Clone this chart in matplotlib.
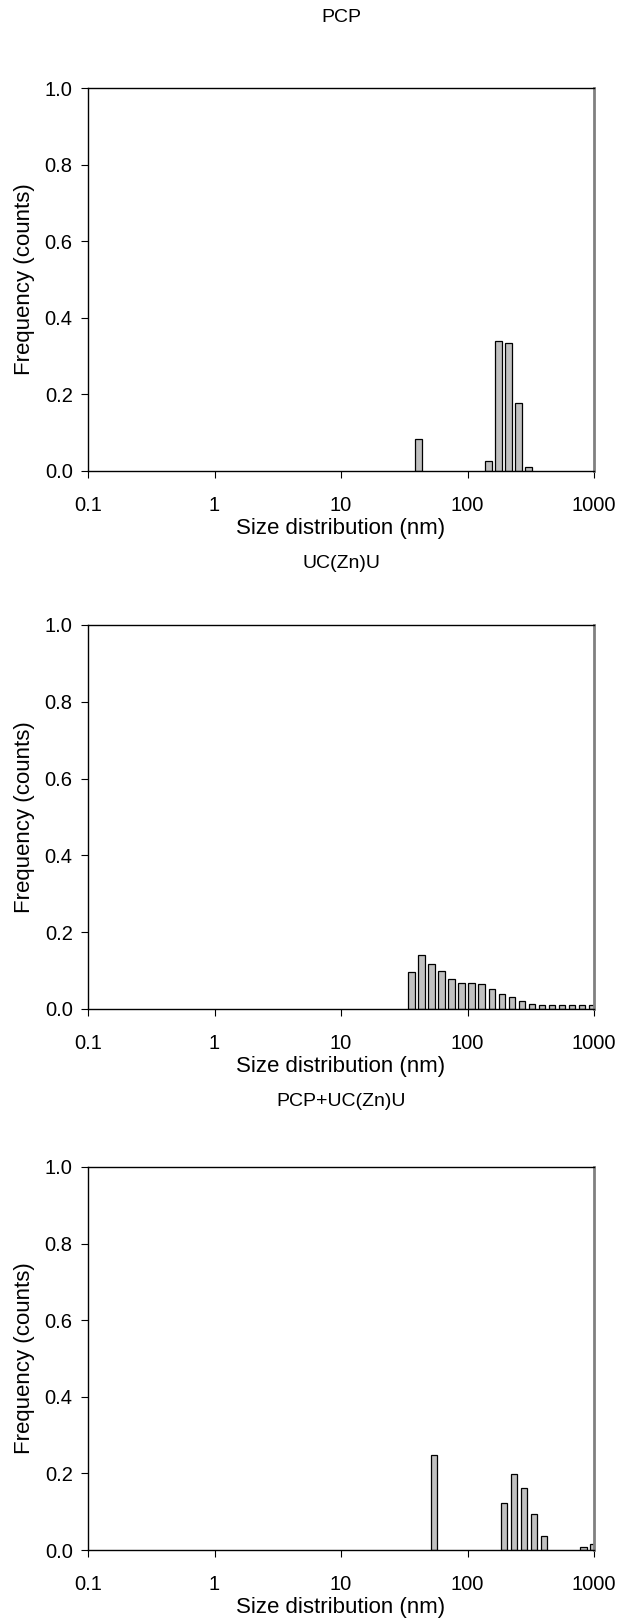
import matplotlib
matplotlib.use('Agg')
import matplotlib.pyplot as plt
import numpy as np

plt.rcParams['font.family'] = ['Liberation Sans', 'DejaVu Sans']

# size bins (nm) and frequencies
pcp_size = [40.8, 146, 175, 210, 252, 302]
pcp_freq = [0.083, 0.025, 0.339, 0.333, 0.178, 0.011]

ucznu_size = [36.1, 43.3, 52.0, 62.4, 74.9, 89.8, 107.8, 129.4, 155.3, 186.3,
              223.6, 268.3, 322, 386.4, 463.7, 556.4, 667.7, 801.2, 961.4]
ucznu_freq = [0.096, 0.141, 0.117, 0.099, 0.078, 0.068, 0.067, 0.064, 0.052, 0.039,
              0.030, 0.020, 0.014, 0.010, 0.010, 0.010, 0.010, 0.010, 0.010]

mix_size = [54.2, 194, 232, 279, 335, 402, 826, 991]
mix_freq = [0.247, 0.122, 0.198, 0.163, 0.093, 0.037, 0.007, 0.015]

titles = ['PCP', 'UC(Zn)U', 'PCP+UC(Zn)U']
panels = [(pcp_size, pcp_freq), (ucznu_size, ucznu_freq), (mix_size, mix_freq)]

W, H = 619, 1620
fig = plt.figure(figsize=(W / 100, H / 100), dpi=100)

# axes boxes in pixels: (top, bottom)
boxes = [(88, 471), (625, 1009), (1167, 1550)]
title_y = [18, 563, 1101]
halfw = [0.029, 0.025, 0.025]   # half bar width in decades
left, right = 88, 594

for i, (sz, fr) in enumerate(panels):
    top, bot = boxes[i]
    ax = fig.add_axes([left / W, 1 - bot / H, (right - left) / W, (bot - top) / H])
    sz = np.array(sz)
    lo = sz / 10 ** halfw[i]
    hi = sz * 10 ** halfw[i]
    ax.bar(lo, fr, width=hi - lo, align='edge', color='#c0c0c0',
           edgecolor='black', linewidth=0.9)
    ax.set_xscale('log')
    ax.set_xlim(0.1, 1000)
    ax.set_ylim(0, 1.0)
    ax.set_xticks([0.1, 1, 10, 100, 1000])
    ax.set_xticklabels(['0.1', '1', '10', '100', '1000'])
    ax.minorticks_off()
    ax.set_yticks([0, 0.2, 0.4, 0.6, 0.8, 1.0])
    ax.set_yticklabels(['0.0', '0.2', '0.4', '0.6', '0.8', '1.0'])
    ax.tick_params(direction='out', length=5, width=0.8, labelsize=14.5, pad=6)
    ax.tick_params(axis='x', pad=13)
    for s in ['left', 'bottom', 'top']:
        ax.spines[s].set_linewidth(1.0)
        ax.spines[s].set_color('black')
    ax.spines['right'].set_color('#808080')
    ax.spines['right'].set_linewidth(2.0)
    ax.set_xlabel('Size distribution (nm)', fontsize=16, labelpad=2)
    ax.set_ylabel('Frequency (counts)', fontsize=16, labelpad=7)
    fig.text(341 / W, 1 - title_y[i] / H, titles[i], ha='center', va='center',
             fontsize=14)

fig.savefig('out.png', dpi=100)
